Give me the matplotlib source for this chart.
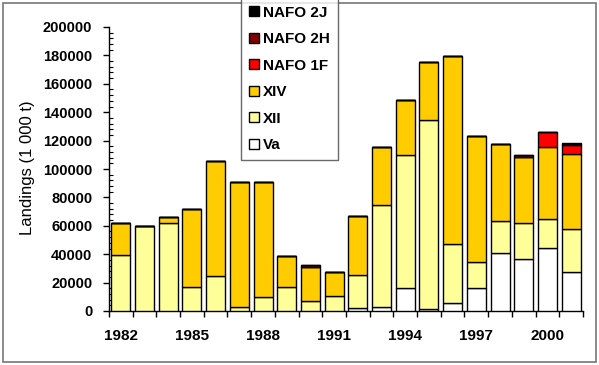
import matplotlib
matplotlib.use("Agg")
import matplotlib.pyplot as plt
import numpy as np
from matplotlib.patches import Rectangle
from matplotlib.ticker import MultipleLocator

years = list(range(1982, 2002))
va =     [0, 0, 0, 0, 0, 0, 0, 0, 0, 0, 2100, 3000, 16400, 1600, 5400, 16400, 41000, 36800, 44100, 27400]
xii =    [39600, 60000, 61700, 17100, 24600, 3000, 10100, 17100, 7000, 10600, 23500, 72000, 93600, 132700, 42000, 18300, 22500, 24900, 20400, 30000]
xiv =    [22100, 0, 4200, 54600, 80900, 88000, 80900, 21600, 24000, 16800, 41200, 40800, 38700, 41100, 132000, 88400, 54400, 46900, 51100, 53300]
nafo1f = [0, 0, 0, 0, 0, 0, 0, 0, 0, 0, 0, 0, 0, 0, 0, 0, 0, 0, 10800, 6100]
nafo2h = [0, 0, 0, 0, 0, 0, 0, 0, 1500, 0, 0, 0, 0, 0, 0, 0, 0, 1000, 0, 600]
nafo2j = [0, 0, 0, 0, 0, 0, 0, 0, 0, 0, 0, 0, 0, 0, 0, 0, 0, 0, 0, 800]
series_names = ["Va", "XII", "XIV", "NAFO 1F", "NAFO 2H", "NAFO 2J"]
colors = ["#FFFFFF", "#FFFF99", "#FFCC00", "#FF0000", "#800000", "#000000"]
xtick_years = [1982, 1985, 1988, 1991, 1994, 1997, 2000]

plt.rcParams['font.family'] = ['Liberation Sans', 'DejaVu Sans']
fig = plt.figure(figsize=(5.99, 3.65), dpi=100)
ax = fig.add_axes([109/599, 1-311/365, (583-109)/599, (311-27)/365])

x = np.arange(len(years))
bottom = np.zeros(len(years))
for name, vals, c in zip(series_names, [va, xii, xiv, nafo1f, nafo2h, nafo2j], colors):
    vals = np.array(vals, dtype=float)
    ax.bar(x, vals, bottom=bottom, width=0.8, color=c, edgecolor="black", linewidth=1.0,
           label=name, zorder=3)
    bottom += vals

ax.set_xlim(-0.5, len(years) - 0.5)
ax.set_ylim(0, 200000)
ax.yaxis.set_major_locator(MultipleLocator(20000))
ax.yaxis.set_minor_locator(MultipleLocator(4000))
ax.tick_params(axis='y', which='major', direction='out', length=4, width=1, labelsize=10.5, pad=8)
ax.tick_params(axis='y', which='minor', direction='in', length=3, width=0.8)
for lab in ax.get_yticklabels():
    lab.set_fontweight('bold')

ax.set_xticks(np.arange(-0.5, len(years) + 0.5, 1.0), minor=True)
ax.tick_params(axis='x', which='minor', direction='out', length=4, width=1)
ax.set_xticks([years.index(y) for y in xtick_years])
ax.set_xticklabels([str(y) for y in xtick_years], fontweight='bold', fontsize=11)
ax.tick_params(axis='x', which='major', length=0, pad=13)

for s in ['top', 'right']:
    ax.spines[s].set_visible(False)
ax.spines['left'].set_linewidth(1)
ax.spines['bottom'].set_linewidth(1)

ax.set_ylabel("Landings (1 000 t)", fontsize=12)
ax.yaxis.set_label_coords(-0.156, 0.505)

h, l = ax.get_legend_handles_labels()
leg = fig.legend(h[::-1], l[::-1], loc='upper left', bbox_to_anchor=(241/599, 1 + 2/365),
                 frameon=True, fancybox=False, edgecolor='#444444',
                 handlelength=0.65, handleheight=0.65, handletextpad=0.3,
                 labelspacing=0.82, borderpad=0.5, borderaxespad=0,
                 prop={'weight': 'bold', 'size': 11})
leg.get_frame().set_linewidth(1)

fig.patches.append(Rectangle((3/599, 3/365), 593/599, 359/365, transform=fig.transFigure,
                             fill=False, edgecolor='#777777', linewidth=1.2))

fig.savefig("out.png", dpi=100)
